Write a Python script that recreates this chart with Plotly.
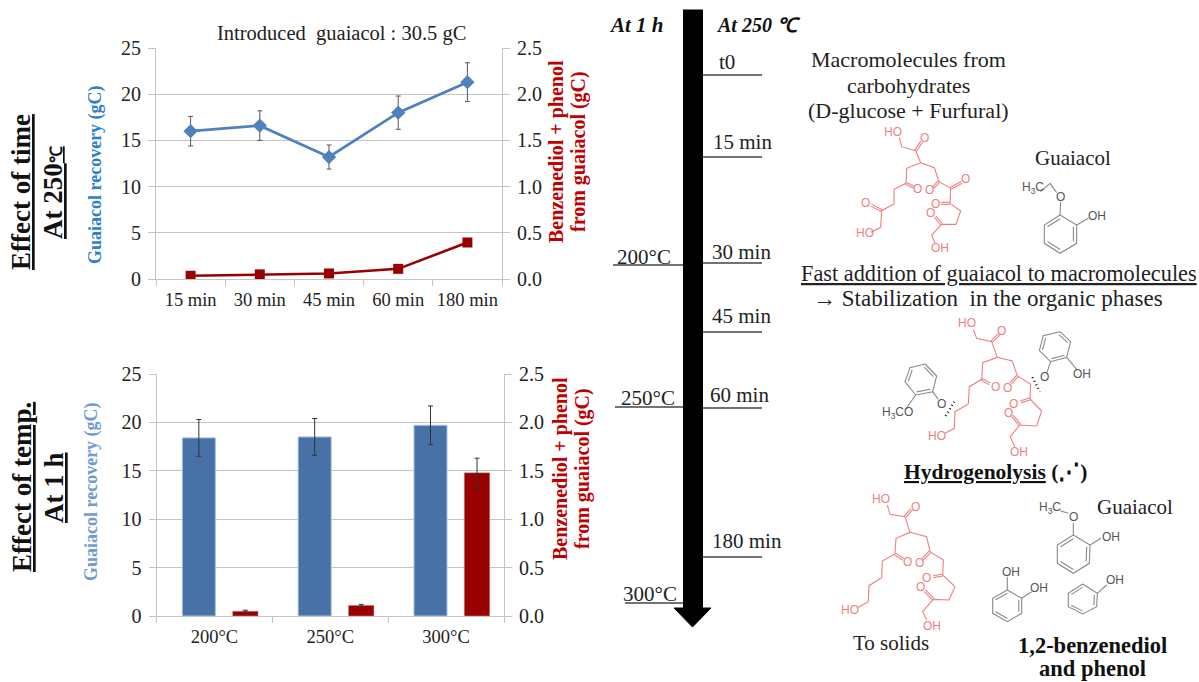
import plotly.graph_objects as go

W, H = 1199, 682

# ---------- chart data ----------
time_labels = ["15 min", "30 min", "45 min", "60 min", "180 min"]
time_guaiacol = [16.0, 16.6, 13.2, 18.0, 21.3]
time_guaiacol_err = [1.6, 1.6, 1.3, 1.8, 2.1]
time_products = [0.035, 0.05, 0.06, 0.11, 0.395]

temp_labels = ["200°C", "250°C", "300°C"]
temp_guaiacol = [18.4, 18.5, 19.7]
temp_guaiacol_err = [1.9, 1.9, 2.0]
temp_products = [0.05, 0.11, 1.48]
temp_products_err = [0.01, 0.01, 0.15]

left_ticks = [0, 5, 10, 15, 20, 25]
right_ticks = [0.0, 0.5, 1.0, 1.5, 2.0, 2.5]

BLUE_LINE = "#4f81bd"
BLUE_BAR = "#4672a8"
RED_LINE = "#990000"
RED_BAR = "#990000"
GRID = "#c4c4c4"
TEXT = "#222222"
SERIF = "Liberation Serif"
PINK = "#ee7f80"
GREY = "#8a8a8a"


def X(a, b):
    return [a / W, b / W]


def Y(top, bottom):
    return [1 - bottom / H, 1 - top / H]


fig = go.Figure()

# ---------- chart 1: time ----------
fig.add_trace(go.Scatter(
    x=time_labels, y=time_guaiacol, xaxis="x", yaxis="y", mode="lines+markers",
    line=dict(color=BLUE_LINE, width=2.8),
    marker=dict(symbol="diamond", size=11, color=BLUE_LINE),
    error_y=dict(type="data", array=time_guaiacol_err, color="#555555", thickness=1, width=2.5),
    showlegend=False))
fig.add_trace(go.Scatter(
    x=time_labels, y=time_products, xaxis="x", yaxis="y2", mode="lines+markers",
    line=dict(color=RED_LINE, width=2.6),
    marker=dict(symbol="square", size=10, color=RED_LINE),
    showlegend=False))

# ---------- chart 2: temperature ----------
fig.add_trace(go.Bar(
    x=temp_labels, y=temp_guaiacol, xaxis="x2", yaxis="y3",
    width=0.285, offset=-0.277, marker=dict(color=BLUE_BAR, line=dict(color="#a9c0dc", width=1)),
    error_y=dict(type="data", array=temp_guaiacol_err, color="#333333", thickness=1, width=2.5),
    showlegend=False))
fig.add_trace(go.Bar(
    x=temp_labels, y=temp_products, xaxis="x2", yaxis="y4",
    width=0.22, offset=0.157, marker=dict(color=RED_BAR, line=dict(color="#c9a0a0", width=0.5)),
    error_y=dict(type="data", array=temp_products_err, color="#333333", thickness=1, width=2.5),
    showlegend=False))


# ---------- diagram helpers (overlay axis in picture pixels) ----------
def segs(paths, ox, oy):
    xs, ys = [], []
    for path in paths:
        for px, py in path:
            xs.append(ox + px / 3)
            ys.append(oy + py / 3)
        xs.append(None)
        ys.append(None)
    return xs, ys


def dbl(p, q, d=6):
    dx, dy = q[0] - p[0], q[1] - p[1]
    n = (dx * dx + dy * dy) ** 0.5
    nx, ny = -dy / n * d / 2, dx / n * d / 2
    return [[(p[0] + nx, p[1] + ny), (q[0] + nx, q[1] + ny)],
            [(p[0] - nx, p[1] - ny), (q[0] - nx, q[1] - ny)]]


def ring(v, inner):
    cx = sum(a for a, _ in v) / 6
    cy = sum(b for _, b in v) / 6
    out = [list(v) + [v[0]]]
    for i in inner:
        a, b = v[i], v[(i + 1) % 6]
        a2 = (a[0] + (cx - a[0]) * 0.2, a[1] + (cy - a[1]) * 0.2)
        b2 = (b[0] + (cx - b[0]) * 0.2, b[1] + (cy - b[1]) * 0.2)
        out.append([a2, b2])
    return out


def draw(paths, ox, oy, color, width=1.1, dash=None):
    xs, ys = segs(paths, ox, oy)
    fig.add_trace(go.Scatter(x=xs, y=ys, xaxis="x3", yaxis="y5", mode="lines",
                             line=dict(color=color, width=width, dash=dash),
                             hoverinfo="skip", showlegend=False))


annotations = []


def label(x, y, text, size=20, color=TEXT, angle=0, family=SERIF, anchor="center"):
    annotations.append(dict(x=x, y=y, xref="x3", yref="y5", text=text, showarrow=False,
                            textangle=angle, xanchor=anchor, yanchor="middle",
                            font=dict(family=family, size=size, color=color)))


def mol_text(ox, oy, items, color, size=12):
    for px, py, t in items:
        label(ox + px / 3, oy + py / 3, t, size=size, color=color, family="Liberation Sans")


# ---------- timeline ----------
shaft_x = [693, 693]
shaft_y = [9.5, 610]
fig.add_trace(go.Scatter(x=shaft_x, y=shaft_y, xaxis="x3", yaxis="y5", mode="lines",
                         line=dict(color="black", width=20), hoverinfo="skip", showlegend=False))
fig.add_trace(go.Scatter(x=[674, 711, 692.5, 674], y=[608, 608, 627, 608], xaxis="x3", yaxis="y5",
                         mode="lines", fill="toself", fillcolor="black", line=dict(color="black", width=1),
                         hoverinfo="skip", showlegend=False))
tl_segments = [[(703, 75), (762, 75)], [(703, 157), (762, 157)], [(703, 263), (762, 263)],
               [(703, 332), (762, 332)], [(703, 408), (762, 408)], [(703, 557), (762, 557)],
               [(613, 265), (683, 265)], [(615, 407), (683, 407)], [(625, 603), (683, 603)]]
draw([[(a * 3, b * 3) for a, b in s] for s in tl_segments], 0, 0, "#444444", width=1.3)
for x, y, t in [(727, 62, "t0"), (742, 142, "15 min"), (741, 252, "30 min"), (741, 316, "45 min"),
                (739, 395, "60 min"), (747, 541, "180 min"),
                (644, 257, "200°C"), (648, 398, "250°C"), (650, 594, "300°C")]:
    label(x, y, t, size=21)
label(636, 25, "<b><i>At 1 h</i></b>", size=21, color="#111111")
label(758, 25, "<b><i>At 250 ℃</i></b>", size=20, color="#111111")

# ---------- molecule 1 ----------
O1 = (800, 100)
m1 = [[(298, 112), (305, 140), (347, 152), (362, 188), (320, 205), (318, 250), (282, 268), (282, 312),
       (245, 332), (242, 382), (213, 397)],
      [(362, 188), (403, 203), (417, 245), (452, 265), (450, 310), (482, 333), (468, 373), (425, 373),
       (395, 405), (405, 430)]]
m1 += dbl((347, 152), (365, 125)) + dbl((318, 250), (342, 262)) + dbl((245, 332), (213, 315))
m1 += dbl((417, 245), (398, 264)) + dbl((452, 265), (485, 247)) + dbl((450, 310), (422, 310))
m1 += dbl((425, 373), (405, 350))
draw(m1, *O1, PINK)
mol_text(*O1, [(280, 97, "HO"), (374, 115, "O"), (353, 267, "O"), (197, 308, "O"), (195, 400, "HO"),
               (388, 270, "O"), (497, 238, "O"), (405, 313, "O"), (392, 338, "O"), (420, 443, "OH")], PINK)
g1 = ring([(780, 345), (830, 375), (830, 430), (780, 460), (733, 430), (733, 375)], [1, 3, 5])
g1 += [[(722, 275), (750, 250), (770, 278)], [(782, 305), (780, 345)], [(830, 375), (865, 355)]]
draw(g1, *O1, GREY)
mol_text(*O1, [(700, 265, "H<sub>3</sub>C"), (782, 290, "O"), (890, 348, "OH")], "#555555")

# ---------- molecule 2 ----------
O2 = (800, 300)
m2 = [[(520, 88), (530, 115), (575, 125), (592, 172), (548, 188), (545, 238), (508, 260), (505, 312),
       (465, 335), (463, 385), (435, 400)],
      [(592, 172), (637, 183), (652, 228), (692, 253), (690, 297), (725, 333), (710, 378), (660, 375),
       (630, 410), (645, 440)]]
m2 += dbl((575, 125), (597, 103)) + dbl((545, 238), (570, 252)) + dbl((652, 228), (632, 250))
m2 += dbl((690, 297), (662, 305)) + dbl((660, 375), (637, 347))
draw(m2, *O2, PINK)
mol_text(*O2, [(500, 70, "HO"), (605, 93, "O"), (585, 260, "O"), (622, 263, "O"), (640, 312, "O"),
               (625, 340, "O"), (410, 407, "HO"), (658, 457, "OH")], PINK)
g2 = ring([(780, 95), (812, 125), (800, 172), (752, 185), (718, 152), (730, 107)], [0, 2, 4])
g2 += ring([(375, 192), (410, 228), (398, 275), (347, 285), (315, 245), (330, 203)], [0, 2, 4])
g2 += [[(740, 220), (752, 185)], [(800, 172), (830, 208)], [(398, 275), (415, 298)], [(347, 285), (315, 330)]]
draw(g2, *O2, GREY)
mol_text(*O2, [(733, 232, "O"), (847, 222, "OH"), (425, 312, "O"), (293, 340, "H<sub>3</sub>CO")], "#555555")
draw([[(437, 348), (463, 305)], [(697, 232), (720, 275)]], *O2, "#111111", width=2.2, dash="1px,3px")

# ---------- molecule 3 ----------
O3 = (800, 480)
m3 = [[(262, 75), (270, 103), (315, 110), (330, 157), (288, 175), (285, 222), (247, 243), (245, 293),
       (207, 317), (205, 365), (175, 382)],
      [(330, 157), (380, 170), (390, 215), (430, 240), (428, 285), (465, 320), (447, 360), (400, 358),
       (368, 395), (380, 420)]]
m3 += dbl((315, 110), (335, 88)) + dbl((285, 222), (310, 238)) + dbl((390, 215), (368, 238))
m3 += dbl((428, 285), (400, 290)) + dbl((400, 358), (374, 332))
draw(m3, *O3, PINK)
mol_text(*O3, [(243, 58, "HO"), (347, 80, "O"), (323, 245, "O"), (358, 248, "O"), (378, 295, "O"),
               (362, 322, "O"), (150, 390, "HO"), (395, 438, "OH")], PINK)
g3 = ring([(820, 165), (870, 195), (868, 250), (820, 280), (772, 250), (772, 195)], [1, 3, 5])
g3 += ring([(622, 330), (665, 355), (665, 400), (622, 425), (578, 400), (578, 355)], [1, 3, 5])
g3 += ring([(848, 312), (892, 340), (890, 380), (848, 402), (805, 380), (805, 340)], [1, 3, 5])
g3 += [[(780, 92), (805, 100)], [(820, 128), (820, 165)], [(870, 195), (903, 175)],
       [(622, 330), (622, 290)], [(665, 355), (695, 335)], [(892, 340), (920, 315)]]
draw(g3, *O3, GREY)
mol_text(*O3, [(750, 85, "H<sub>3</sub>C"), (820, 112, "O"), (932, 170, "OH"), (633, 275, "OH"),
               (718, 325, "OH"), (945, 300, "OH")], "#555555")

# ---------- chart and diagram text ----------
label(341, 33, "Introduced  guaiacol : 30.5 gC", size=20.5)
label(95, 175, "<b>Guaiacol recovery (gC)</b>", size=18, color="#2f7fc8", angle=-90)
label(556, 152, "<b>Benzenediol + phenol</b>", size=20, color="#c00000", angle=-90)
label(578, 152, "<b>from guaiacol (gC)</b>", size=20, color="#c00000", angle=-90)
label(91, 492, "<b>Guaiacol recovery (gC)</b>", size=18, color="#6f9bd1", angle=-90)
label(560, 469, "<b>Benzenediol + phenol</b>", size=20, color="#c00000", angle=-90)
label(582, 469, "<b>from guaiacol (gC)</b>", size=20, color="#c00000", angle=-90)
label(21, 192, "<b><u>Effect of time</u></b>", size=27, color="#111111", angle=-90)
label(53, 193, "<b><u>At 250<span style=\"font-size:17px\">℃</span></u></b>", size=27, color="#111111", angle=-90)
label(22, 487, "<b><u>Effect of temp.</u></b>", size=27, color="#111111", angle=-90)
label(54, 488, "<b><u>At 1 h</u></b>", size=27, color="#111111", angle=-90)
for y, t in [(59, "Macromolecules from"), (85, "carbohydrates"), (110, "(D-glucose + Furfural)")]:
    label(908, y, t, size=22)
label(1073, 158, "Guaiacol", size=21)
label(999, 273, "<u>Fast addition of guaiacol to macromolecules</u>", size=22.3)
label(988, 298, "→ Stabilization  in the organic phases", size=23)
label(995, 472, "<b><u>Hydrogenolysis</u> (⋰)</b>", size=21.5, color="#111111")
label(1135, 507, "Guaiacol", size=21)
label(891, 643, "To solids", size=21)
label(1092, 645, "<b>1,2-benzenediol</b>", size=22.5, color="#111111")
label(1092, 668, "<b>and phenol</b>", size=22.5, color="#111111")

tick_font = dict(family=SERIF, size=20, color=TEXT)
x_font = dict(family=SERIF, size=18.5, color=TEXT)


def yax(domain, ticks, fmt, side, overlaying=None, anchor="x", grid=False):
    d = dict(domain=domain, range=[ticks[0], ticks[-1]], tickvals=ticks, tickformat=fmt, side=side,
             ticks="outside", ticklen=7, tickcolor=GRID, showline=True, linecolor=GRID, linewidth=1,
             showgrid=grid, gridcolor=GRID, gridwidth=1, zeroline=False, tickfont=tick_font, anchor=anchor,
             ticklabelstandoff=3)
    if overlaying:
        d["overlaying"] = overlaying
    return d


def xax(domain, anchor, cats):
    return dict(domain=domain, anchor=anchor, type="category", categoryorder="array", categoryarray=cats,
                range=[-0.5, len(cats) - 0.5], tickson="boundaries", ticks="outside", ticklen=6,
                tickcolor=GRID, showline=True, linecolor=GRID, linewidth=1, showgrid=False,
                tickfont=x_font, ticklabelstandoff=4, tickangle=0)


fig.update_layout(
    width=W, height=H, autosize=False, margin=dict(l=0, r=0, t=0, b=0, pad=0, autoexpand=False),
    paper_bgcolor="white", plot_bgcolor="rgba(0,0,0,0)", barmode="overlay", showlegend=False,
    xaxis=xax(X(156, 502), "y", time_labels),
    yaxis=yax(Y(48, 279), left_ticks, "d", "left", grid=True),
    yaxis2=yax(Y(48, 279), right_ticks, ".1f", "right", overlaying="y"),
    xaxis2=xax(X(156.5, 504), "y3", temp_labels),
    yaxis3=yax(Y(374, 616), left_ticks, "d", "left", anchor="x2", grid=True),
    yaxis4=yax(Y(374, 616), right_ticks, ".1f", "right", overlaying="y3", anchor="x2"),
    xaxis3=dict(domain=[0, 1], range=[0, W], visible=False, anchor="y5", fixedrange=True),
    yaxis5=dict(domain=[0, 1], range=[H, 0], visible=False, anchor="x3", fixedrange=True),
    annotations=annotations,
)

fig.write_html("out.html", config=dict(displayModeBar=False),
               post_script="document.body.style.margin='0';document.body.style.overflow='hidden';")
